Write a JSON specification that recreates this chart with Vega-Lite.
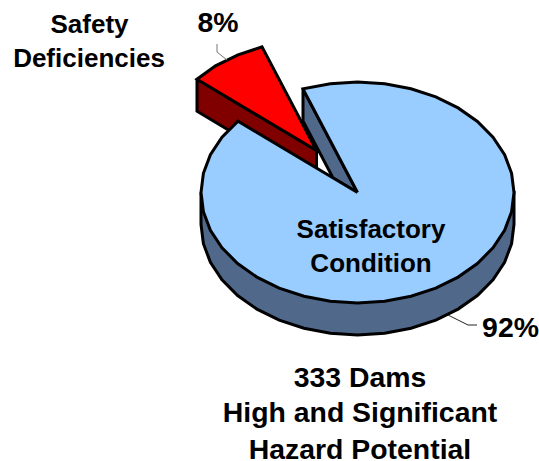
{
"$schema":"https://vega.github.io/schema/vega-lite/v6.json",
"width":539,"height":461,"autosize":{"type":"none"},"padding":0,
"background":"white","view":{"stroke":null},
"datasets":{
"side":[{"o":0,"x":-156.5,"y":0},{"o":1,"x":-156.5,"y":-32},{"o":2,"x":-154.1,"y":-51.2},{"o":3,"x":-147.1,"y":-69.8},{"o":4,"x":-135.5,"y":-87.3},{"o":5,"x":-119.9,"y":-103},{"o":6,"x":-100.6,"y":-116.6},{"o":7,"x":-78.3,"y":-127.7},{"o":8,"x":-53.5,"y":-135.8},{"o":9,"x":-27.2,"y":-140.8},{"o":10,"x":0,"y":-142.5},{"o":11,"x":27.2,"y":-140.8},{"o":12,"x":53.5,"y":-135.8},{"o":13,"x":78.3,"y":-127.7},{"o":14,"x":100.6,"y":-116.6},{"o":15,"x":119.9,"y":-103},{"o":16,"x":135.5,"y":-87.3},{"o":17,"x":147.1,"y":-69.8},{"o":18,"x":154.1,"y":-51.2},{"o":19,"x":156.5,"y":-32},{"o":20,"x":156.5,"y":0},{"o":21,"x":-156.5,"y":0}],
"cut":[{"o":0,"x":-54.5,"y":103.5},{"o":1,"x":0,"y":0},{"o":2,"x":-24.5,"y":14.5},{"o":3,"x":-54.5,"y":71.5},{"o":4,"x":-54.5,"y":103.5}],
"redwall":[{"o":0,"x":-160.5,"y":113.3},{"o":1,"x":-41,"y":42},{"o":2,"x":-41,"y":10},{"o":3,"x":-160.5,"y":81.3},{"o":4,"x":-160.5,"y":113.3}],
"red":[{"o":0,"x":-41,"y":42},{"o":1,"x":-160.5,"y":113.3},{"o":2,"x":-142,"y":126.6},{"o":3,"x":-119.5,"y":137.7},{"o":4,"x":-95.5,"y":145.6},{"o":5,"x":-41,"y":42}],
"main":[{"o":0,"x":0,"y":0},{"o":1,"x":-54.5,"y":103.6},{"o":2,"x":-27.2,"y":108.8},{"o":3,"x":0,"y":110.5},{"o":4,"x":27.2,"y":108.8},{"o":5,"x":53.5,"y":103.8},{"o":6,"x":78.3,"y":95.7},{"o":7,"x":100.6,"y":84.6},{"o":8,"x":119.9,"y":71},{"o":9,"x":135.5,"y":55.3},{"o":10,"x":147.1,"y":37.8},{"o":11,"x":154.1,"y":19.2},{"o":12,"x":156.5,"y":0},{"o":13,"x":154.1,"y":-19.2},{"o":14,"x":147.1,"y":-37.8},{"o":15,"x":135.5,"y":-55.3},{"o":16,"x":119.9,"y":-71},{"o":17,"x":100.6,"y":-84.6},{"o":18,"x":78.3,"y":-95.7},{"o":19,"x":53.5,"y":-103.8},{"o":20,"x":27.2,"y":-108.8},{"o":21,"x":0,"y":-110.5},{"o":22,"x":-27.2,"y":-108.8},{"o":23,"x":-53.5,"y":-103.8},{"o":24,"x":-78.3,"y":-95.7},{"o":25,"x":-100.6,"y":-84.6},{"o":26,"x":-119.9,"y":-71},{"o":27,"x":-135.5,"y":-55.3},{"o":28,"x":-147.1,"y":-37.8},{"o":29,"x":-154.1,"y":-19.2},{"o":30,"x":-156.5,"y":0},{"o":31,"x":-154.1,"y":19.2},{"o":32,"x":-147.1,"y":37.8},{"o":33,"x":-135.5,"y":55.3},{"o":34,"x":-119.5,"y":71.3},{"o":35,"x":0,"y":0}],
"leader8":[{"o":0,"x":-140.5,"y":148.5},{"o":1,"x":-140.5,"y":140.5},{"o":2,"x":-130.5,"y":132.5}],
"leader92":[{"o":0,"x":90.5,"y":-122.5},{"o":1,"x":110.5,"y":-132.5},{"o":2,"x":119.5,"y":-132.5}],
"labelsSmall":[{"t":"Safety","x":-268,"y":167.5},{"t":"Deficiencies","x":-268.5,"y":133.5},{"t":"Satisfactory","x":13.5,"y":-37.5},{"t":"Condition","x":13.5,"y":-71.5}],
"labelsLarge":[{"t":"8%","x":-139.5,"y":169.5},{"t":"92%","x":153,"y":-135.5},{"t":"333 Dams","x":2.5,"y":-185.5},{"t":"High and Significant","x":2.5,"y":-220.5},{"t":"Hazard Potential","x":2.5,"y":-257}]
},
"encoding":{
"x":{"field":"x","type":"quantitative","scale":{"domain":[-357.5,181.5],"nice":false,"zero":false},"axis":null},
"y":{"field":"y","type":"quantitative","scale":{"domain":[-268.5,192.5],"nice":false,"zero":false},"axis":null}
},
"layer":[
{"data":{"name":"side"},"mark":{"type":"line","fill":"#50688A","stroke":"black","strokeWidth":3,"strokeJoin":"miter"},"encoding":{"order":{"field":"o","type":"quantitative"}}},
{"data":{"name":"cut"},"mark":{"type":"line","fill":"#50688A","stroke":"black","strokeWidth":3,"strokeJoin":"miter"},"encoding":{"order":{"field":"o","type":"quantitative"}}},
{"data":{"name":"redwall"},"mark":{"type":"line","fill":"#800000","stroke":"black","strokeWidth":3,"strokeJoin":"miter"},"encoding":{"order":{"field":"o","type":"quantitative"}}},
{"data":{"name":"red"},"mark":{"type":"line","fill":"#FF0000","stroke":"black","strokeWidth":3,"strokeJoin":"miter"},"encoding":{"order":{"field":"o","type":"quantitative"}}},
{"data":{"name":"main"},"mark":{"type":"line","fill":"#99CCFF","stroke":"black","strokeWidth":3,"strokeJoin":"miter"},"encoding":{"order":{"field":"o","type":"quantitative"}}},
{"data":{"name":"leader8"},"mark":{"type":"line","stroke":"#777777","strokeWidth":1},"encoding":{"order":{"field":"o","type":"quantitative"}}},
{"data":{"name":"leader92"},"mark":{"type":"line","stroke":"#222222","strokeWidth":1},"encoding":{"order":{"field":"o","type":"quantitative"}}},
{"data":{"name":"labelsSmall"},"mark":{"type":"text","font":"Liberation Sans","fontWeight":"bold","fontSize":26,"color":"black","align":"center","baseline":"middle"},"encoding":{"text":{"field":"t","type":"nominal"}}},
{"data":{"name":"labelsLarge"},"mark":{"type":"text","font":"Liberation Sans","fontWeight":"bold","fontSize":28.4,"color":"black","align":"center","baseline":"middle"},"encoding":{"text":{"field":"t","type":"nominal"}}}
]
}
